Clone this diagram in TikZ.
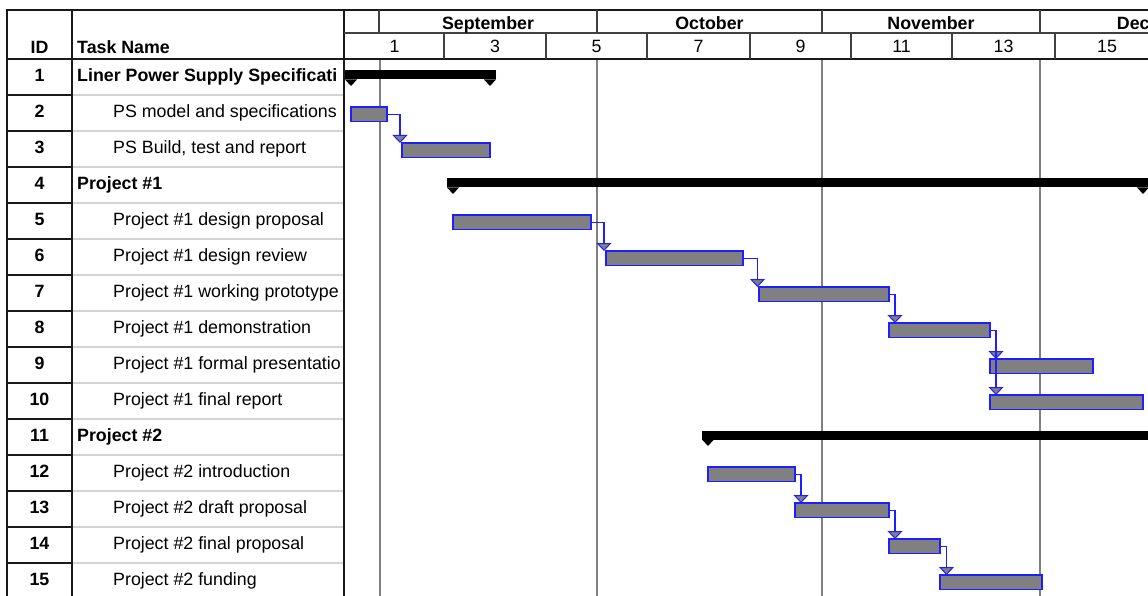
\documentclass[tikz,border=0pt]{standalone}
\usepackage{fontspec}
\setmainfont{Liberation Sans}
\usepackage{tikz}
\usetikzlibrary{arrows.meta}
\usepackage{xcolor}

\definecolor{bargray}{RGB}{128,128,128}
\definecolor{barblue}{RGB}{30,30,255}
\definecolor{gridgray}{RGB}{128,128,128}
\definecolor{rowgray}{RGB}{212,212,212}

\tikzset{
  txt/.style={inner sep=0pt, font=\fontsize{17.8}{20}\selectfont},
  hdr/.style={txt, font=\fontsize{17.8}{20}\selectfont\bfseries},
  frame/.style={draw=black!90, line width=1.6pt},
  head/.style={draw=black!75, line width=1.5pt},
  grid/.style={draw=gridgray, line width=1.8pt},
  rowline/.style={draw=rowgray, line width=1.4pt},
  bar/.style={draw=barblue, fill=bargray, line width=1.4pt, inner sep=0pt,
    outer sep=0pt, minimum height=14.5pt, anchor=north west},
  dep/.style={draw=barblue, line width=1.2pt,
    -{Triangle[width=15pt,length=8pt,fill=bargray,line width=1pt]}}
}

% summary bar: start, end, row
\newcommand{\sumbar}[3]{%
  \pgfmathsetmacro\rt{36*#3+23}
  \fill ({#1-6},{\rt+11.5}) rectangle ({#2+6},{\rt+20.5});
  \fill ({#1-6},{\rt+20.5}) -- ({#1+6},{\rt+20.5}) -- (#1,{\rt+27}) -- cycle;
  \fill ({#2-6},{\rt+20.5}) -- ({#2+6},{\rt+20.5}) -- (#2,{\rt+27}) -- cycle;
}

\begin{document}
\begin{tikzpicture}[x=1pt, y=-1pt]
  \clip (0,0) rectangle (1148,596);

  % month grid in the chart
  \foreach \gx in {380,597,822,1040}
    \draw[grid] (\gx,59) -- (\gx,596);

  % row lines
  \foreach \r in {1,...,15} {
    \pgfmathsetmacro\ry{59+36*\r}
    \draw[rowline] (72,\ry) -- (344,\ry);
    \draw[frame] (7,\ry) -- (72,\ry);
  }

  % table frame and timescale
  \draw[frame] (7,596) -- (7,10) -- (1148,10);
  \draw[frame] (7,59) -- (1148,59);
  \draw[frame] (72,10) -- (72,596);
  \draw[frame] (344,10) -- (344,596);
  \draw[head] (344,33) -- (1148,33);
  \foreach \hx in {379,597,822,1040}
    \draw[head] (\hx,10) -- (\hx,33);
  \foreach \hx in {444,546,647,750,851,952,1055}
    \draw[head] (\hx,33) -- (\hx,59);

  \node[hdr, anchor=base] (hid) at (39.5,53.3) {ID};
  \node[hdr, anchor=base west] (hname) at (77,53.3) {Task Name};
  \node[hdr, anchor=base] (mSep) at (488,29.3) {September};
  \node[hdr, anchor=base] (mOct) at (709.5,29.3) {October};
  \node[hdr, anchor=base] (mNov) at (931,29.3) {November};
  \node[hdr, anchor=base] (mDec) at (1160,29.3) {December};
  \foreach \d/\dx in {1/394.5,3/495,5/596.5,7/698.5,9/800.5,11/901.5,13/1003.5,15/1107}
    \node[txt, anchor=base] (d\d) at (\dx,52.7) {\d};

  % ids and task names
  \foreach \n in {1,...,15}
    \node[hdr, anchor=base] (id\n) at (39.5,{36*\n+45.5}) {\n};
  \begin{scope}
    \clip (72,59) rectangle (343,596);
    \foreach \n/\name in {1/Liner Power Supply Specificati, 4/Project \#1, 11/Project \#2}
      \node[hdr, anchor=base west] (t\n) at (77,{36*\n+45.5}) {\name};
    \foreach \n/\name in {2/PS model and specifications, 3/{PS Build, test and report},
        5/Project \#1 design proposal, 6/Project \#1 design review,
        7/Project \#1 working prototype, 8/Project \#1 demonstration,
        9/Project \#1 formal presentatio, 10/Project \#1 final report,
        12/Project \#2 introduction, 13/Project \#2 draft proposal,
        14/Project \#2 final proposal, 15/Project \#2 funding}
      \node[txt, anchor=base west] (t\n) at (113,{36*\n+45.5}) {\name};
  \end{scope}

  % summary bars
  \sumbar{351}{490}{1}
  \sumbar{453}{1143}{4}
  \sumbar{708}{1160}{11}

  % task bars
  \foreach \n/\xa/\xb in {2/351/387, 3/402/490, 5/453/591, 6/606/743,
      7/759/889, 8/889/990, 9/990/1093, 10/990/1143,
      12/708/795, 13/795/889, 14/889/940, 15/940/1042} {
    \pgfmathsetmacro\bw{\xb-\xa}
    \node[bar, minimum width=\bw pt] (b\n) at (\xa,{36*\n+35}) {};
  }

  % links
  \draw[dep] (b2.east) -| ([xshift=-2pt]b3.north west);
  \draw[dep] (b5.east) -| ([xshift=-2pt]b6.north west);
  \draw[dep] (b6.east) -| ([xshift=-1.5pt]b7.north west);
  \draw[dep] (b7.east) -| ([xshift=6pt]b8.north west);
  \draw[dep] (b8.east) -| ([xshift=6pt]b9.north west);
  \draw[dep] (b8.east) -| ([xshift=6pt]b10.north west);
  \draw[dep] (b12.east) -| ([xshift=6pt]b13.north west);
  \draw[dep] (b13.east) -| ([xshift=6pt]b14.north west);
  \draw[dep] (b14.east) -| ([xshift=6.5pt]b15.north west);
\end{tikzpicture}
\end{document}
